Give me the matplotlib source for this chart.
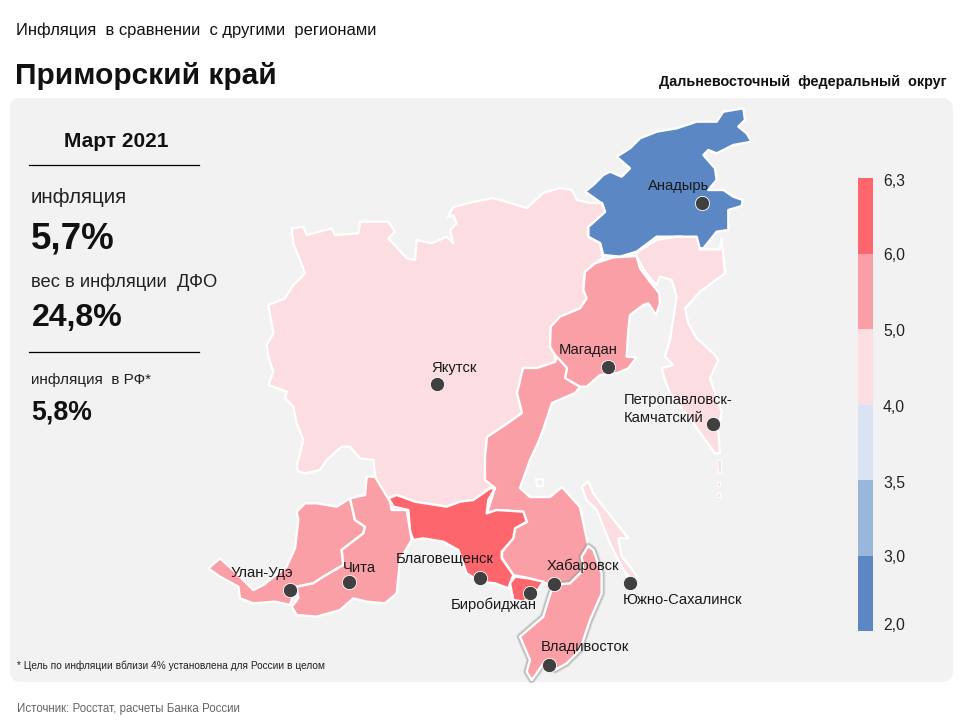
import matplotlib
matplotlib.use("Agg")
import matplotlib.pyplot as plt
import matplotlib.patheffects as pe
from matplotlib.colors import ListedColormap, BoundaryNorm
from matplotlib.colorbar import ColorbarBase
from matplotlib.patches import FancyBboxPatch, Polygon

plt.rcParams["font.family"] = ["Liberation Sans", "DejaVu Sans"]

# --- data ---
bin_edges = [2.0, 3.0, 3.5, 4.0, 5.0, 6.0, 6.3]
bin_labels = ["2,0", "3,0", "3,5", "4,0", "5,0", "6,0", "6,3"]
bin_colors = ["#5B88C5", "#9AB6DB", "#D9E3F3", "#FBDDE2", "#FA9FA6", "#FE666E"]

region_values = {
    "Чукотка": 2.7, "Якутия": 4.6, "Камчатка": 4.6, "Сахалин": 4.5,
    "Курилы 1": 4.5, "Курилы 2": 4.5, "Курилы 3": 4.5,
    "Магадан": 5.5, "Хабаровск": 5.4, "Бурятия": 5.3, "Забайкалье": 5.4,
    "Амур": 6.1, "ЕАО": 6.2, "Приморье": 5.7,
}

city_names = ["Анадырь", "Якутск", "Магадан", "Улан-Удэ", "Чита", "Благовещенск",
              "Биробиджан", "Хабаровск", "Южно-Сахалинск", "Владивосток",
              "Петропавловск-\nКамчатский"]
city_x = [702, 437, 608, 290, 349, 480, 530, 554, 630, 549, 713]
city_y = [203, 384, 367, 590, 582, 578, 593, 584, 583, 665, 424]
label_x = [648, 431, 559, 231, 343, 396, 451, 547, 623, 541, 624]
label_y = [190, 372, 354, 577, 572, 563, 609, 570, 604, 651, 422]


def crop(x0, y0, pts):
    return [(x0 + a / 3, y0 + b / 3) for a, b in pts]


# --- outlines ---
outlines = {}
outlines["Чукотка"] = crop(560, 100, [
    (75, 275), (100, 255), (130, 225), (150, 215), (185, 230), (210, 205), (170, 170),
    (210, 145), (240, 115), (290, 95), (350, 85), (410, 65), (470, 65), (490, 35),
    (520, 30), (550, 25), (555, 60), (535, 80), (560, 100), (575, 125), (520, 135),
    (470, 160), (445, 150), (430, 165), (465, 205), (470, 240), (445, 270), (490, 270),
    (520, 290), (548, 300), (545, 318), (505, 330), (505, 390), (470, 395), (430, 445),
    (370, 445), (365, 410), (290, 410), (230, 455), (180, 470), (130, 465), (120, 430),
    (85, 410), (85, 380), (135, 335), (125, 310), (90, 285)])

outlines["Якутия"] = crop(260, 210, [
    (95, 55), (130, 50), (140, 75), (215, 55), (225, 75), (295, 70), (300, 35), (350, 35),
    (385, 35), (405, 65), (385, 85), (440, 145), (465, 150), (470, 90), (515, 100),
    (560, 80), (580, 100), (570, 60), (590, 40), (580, 15)]) + [
    (448, 217), (453, 207), (473, 202), (493, 198), (507, 202), (527, 208), (543, 193),
    (560, 188), (572, 190), (577, 200), (590, 203), (602, 203), (605, 212), (588, 227),
    (588, 237), (600, 243), (603, 258), (595, 263), (585, 272), (583, 290), (587, 298),
    (580, 308), (560, 317), (551, 327), (550, 347), (555, 355), (555, 362), (537, 368),
    (523, 368), (517, 393), (522, 413), (505, 425), (487, 437), (485, 457), (485, 480),
    (497, 488), (490, 488), (473, 500), (460, 502), (447, 507), (415, 502), (397, 495),
    (388, 498), (378, 497)] + crop(260, 210, [
    (340, 750), (300, 745), (270, 710), (245, 710), (200, 750), (180, 780), (135, 790),
    (115, 785), (110, 770), (130, 690), (110, 640), (100, 590), (75, 565), (80, 545),
    (25, 525), (40, 485), (25, 440), (20, 405), (40, 370), (25, 285), (75, 265), (100, 225),
    (135, 190), (120, 150), (100, 100)])

outlines["Магадан"] = crop(480, 240, [
    (400, 52), (470, 48), (480, 85), (510, 125), (538, 160), (540, 190), (528, 225),
    (505, 190), (490, 195), (450, 225), (445, 270), (440, 350), (470, 352), (445, 385),
    (410, 400), (360, 405), (320, 440), (300, 440), (255, 415), (260, 385), (225, 345),
    (210, 320), (212, 260), (240, 230), (300, 205), (320, 175), (310, 150), (315, 95),
    (345, 70)])

outlines["Камчатка"] = crop(480, 240, [
    (471, 36), (530, 0), (590, -10), (650, -10), (660, 28), (720, 28), (725, -5),
    (735, 100), (660, 155), (615, 205), (625, 250), (650, 295), (700, 340), (715, 360),
    (690, 415), (725, 515), (715, 570), (720, 640), (705, 640), (640, 550), (570, 460),
    (555, 420), (545, 385), (580, 375), (555, 350), (570, 300), (590, 170), (575, 120),
    (540, 110), (530, 135), (520, 125), (495, 95), (470, 50)])

outlines["Хабаровск"] = [
    (523, 368), (537, 368), (555, 362), (557, 357), (567, 368), (565, 378), (580, 387),
    (575, 393), (552, 403), (543, 430), (538, 443), (530, 460), (520, 488), (530, 497),
    (550, 497), (562, 487), (580, 507), (588, 545), (582, 557), (583, 570), (580, 573),
    (570, 583), (550, 585), (543, 582), (528, 578), (513, 575), (502, 558), (502, 552),
    (513, 538), (515, 528), (527, 522), (523, 512), (497, 510), (487, 513), (495, 488),
    (485, 480), (485, 457), (487, 437), (505, 425), (522, 413), (517, 393)]

outlines["Амур"] = crop(380, 470, [
    (25, 85), (50, 75), (105, 95), (200, 110), (240, 95), (280, 90), (330, 55), (345, 55),
    (325, 90), (320, 130), (350, 120), (430, 125), (440, 155), (405, 175), (400, 205),
    (365, 245), (365, 265), (400, 315), (385, 355), (345, 340), (300, 335), (260, 310),
    (235, 240), (190, 215), (130, 205), (100, 210), (90, 185), (85, 120), (40, 110), (35, 100)])

outlines["ЕАО"] = crop(380, 470, [
    (390, 340), (405, 320), (445, 325), (490, 335), (470, 365), (430, 395), (400, 390)])

outlines["Сахалин"] = crop(380, 470, [
    (605, 50), (625, 35), (640, 70), (670, 110), (690, 135), (745, 205), (715, 205),
    (725, 260), (750, 290), (775, 325), (755, 330), (730, 300), (690, 220), (650, 120), (620, 90)])

outlines["Бурятия"] = crop(200, 470, [
    (25, 295), (60, 265), (110, 310), (160, 360), (190, 345), (260, 290), (285, 235),
    (295, 150), (290, 125), (315, 100), (350, 100), (410, 110), (450, 85), (465, 150),
    (495, 170), (490, 190), (425, 240), (430, 285), (370, 320), (340, 340), (290, 350),
    (275, 390), (270, 405), (225, 395), (160, 400), (120, 385), (115, 350), (60, 320)])

outlines["Забайкалье"] = crop(200, 470, [
    (450, 85), (495, 75), (500, 20), (525, 20), (555, 70), (570, 95), (575, 120), (620, 120),
    (635, 210), (600, 270), (590, 370), (555, 400), (500, 395), (460, 385), (420, 420),
    (350, 440), (290, 435), (275, 410), (295, 385), (290, 350), (340, 340), (370, 320),
    (430, 285), (425, 240), (490, 190), (495, 170), (465, 150)])

outlines["Приморье"] = crop(380, 470, [
    (625, 228), (640, 240), (665, 310), (665, 370), (630, 450), (600, 540), (560, 580),
    (525, 600), (490, 580), (470, 610), (455, 630), (440, 605), (450, 570), (420, 500),
    (490, 440), (505, 390), (520, 345), (570, 340), (600, 310), (610, 300), (605, 260)])

outlines["Курилы 1"] = crop(480, 240, [(712, 660), (722, 660), (722, 695), (714, 695)])
outlines["Курилы 2"] = crop(480, 240, [(712, 725), (720, 725), (720, 738), (712, 738)])
outlines["Курилы 3"] = crop(480, 240, [(712, 758), (720, 758), (720, 770), (712, 770)])

shantar_island = crop(380, 470, [(468, 28), (488, 28), (490, 48), (472, 50)])

fig = plt.figure(figsize=(9.6, 7.2), dpi=100, facecolor="white")
ax = fig.add_axes([0, 0, 1, 1])
ax.set_xlim(0, 960)
ax.set_ylim(720, 0)
ax.axis("off")

ax.add_patch(FancyBboxPatch((10, 98), 943, 584, boxstyle="round,pad=0,rounding_size=11",
                            linewidth=0, facecolor="#F2F2F2", zorder=0))

cmap = ListedColormap(bin_colors)
norm = BoundaryNorm(bin_edges, cmap.N)

for name, pts in outlines.items():
    color = cmap(norm(region_values[name]))
    zo = 3 if name == "Приморье" else 2
    lw = 0.7 if name.startswith("Курилы") else 1.7
    poly = Polygon(pts, closed=True, facecolor=color, edgecolor="white", linewidth=lw,
                   joinstyle="round", zorder=zo)
    if name == "Приморье":
        poly.set_path_effects([
            pe.Stroke(linewidth=5.5, foreground="#A8A8A8", alpha=0.25),
            pe.Stroke(linewidth=4, foreground="#8C8C8C", alpha=0.4),
            pe.Normal()])
    ax.add_patch(poly)
ax.add_patch(Polygon(shantar_island, closed=True, facecolor="#F2F2F2", edgecolor="white",
                     linewidth=1.4, zorder=2))

# cities
ax.scatter(city_x, city_y, s=105, c="#404040", edgecolors="white", linewidths=0.6, zorder=5)
for name, x, y in zip(city_names, label_x, label_y):
    lines = name.split("\n")
    for i, ln in enumerate(lines):
        ax.text(x, y - 18 * (len(lines) - 1 - i), ln, fontsize=10.6, color="#1a1a1a",
                va="baseline", ha="left", zorder=6)

# headings
ax.text(16, 35, "Инфляция  в сравнении  с другими  регионами", fontsize=11.9, va="baseline", color="#111111")
ax.text(15, 84, "Приморский край", fontsize=21.5, fontweight="bold", va="baseline", color="#111111")
ax.text(947, 86, "Дальневосточный  федеральный  округ", fontsize=10.4, fontweight="bold",
        va="baseline", ha="right", color="#111111")

# left panel
ax.text(116, 147, "Март 2021", fontsize=15, fontweight="bold", va="baseline", ha="center", color="#111111")
ax.plot([29, 199], [165, 165], color="black", lw=0.9, zorder=2)
ax.plot([29, 199], [352, 352], color="black", lw=0.9, zorder=2)
ax.text(31, 203, "инфляция", fontsize=14.8, va="baseline", color="#222222")
ax.text(31, 248, "5,7%", fontsize=26.5, fontweight="bold", va="baseline", color="#111111")
ax.text(31, 287, "вес в инфляции  ДФО", fontsize=13.2, va="baseline", color="#222222")
ax.text(32, 326, "24,8%", fontsize=23, fontweight="bold", va="baseline", color="#111111")
ax.text(31, 384, "инфляция  в РФ*", fontsize=11, va="baseline", color="#222222")
ax.text(31, 420, "5,8%", fontsize=19.2, fontweight="bold", va="baseline", color="#111111")

ax.text(17, 669, "* Цель по инфляции вблизи 4% установлена для России в целом", fontsize=7.3,
        va="baseline", color="#222222")
ax.text(17, 712, "Источник: Росстат, расчеты Банка России", fontsize=8.3, va="baseline", color="#666666")

# colour scale
cax = fig.add_axes([858 / 960, 1 - 631 / 720, 15 / 960, (631 - 178) / 720])
cb = ColorbarBase(cax, cmap=cmap, norm=norm, spacing="uniform", orientation="vertical")
cb.outline.set_visible(False)
cb.set_ticks([])
cb.minorticks_off()
label_offsets = [626, 558, 483, 407, 332, 255, 182]
for lab, y in zip(bin_labels, label_offsets):
    ax.text(883, y, lab, fontsize=11.3, va="center", ha="left", color="#222222")

fig.savefig("out.png", dpi=100)
